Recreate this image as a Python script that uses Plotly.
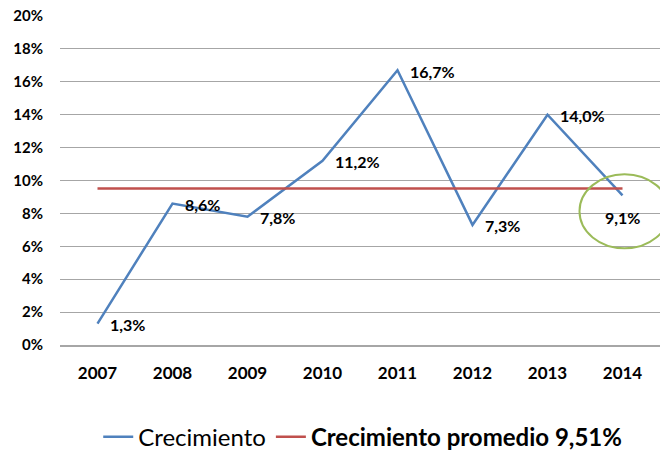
import plotly.graph_objects as go

years = ["2007", "2008", "2009", "2010", "2011", "2012", "2013", "2014"]
growth = [0.013, 0.086, 0.078, 0.112, 0.167, 0.073, 0.140, 0.091]
growth_labels = ["1,3%", "8,6%", "7,8%", "11,2%", "16,7%", "7,3%", "14,0%", "9,1%"]
average = 0.0951
average_name = "Crecimiento promedio 9,51%"
y_ticks = [0, 0.02, 0.04, 0.06, 0.08, 0.10, 0.12, 0.14, 0.16, 0.18, 0.20]
y_tick_labels = ["0%", "2%", "4%", "6%", "8%", "10%", "12%", "14%", "16%", "18%", "20%"]

FONT = "Lato"
BLUE = "#4F81BD"
RED = "#C0504D"
GREEN = "#9BBB59"

fig = go.Figure()
fig.add_trace(go.Scatter(x=years, y=growth, mode="lines", name="Crecimiento",
                         line=dict(color=BLUE, width=2.5)))
fig.add_trace(go.Scatter(x=years, y=[average] * len(years), mode="lines",
                         name="<b>" + average_name + "</b>",
                         line=dict(color=RED, width=2.5)))

last_idx = len(years) - 1
for i, (v, lab) in enumerate(zip(growth, growth_labels)):
    last = i == last_idx
    fig.add_annotation(x=i, y=v, xref="x", yref="y", text="<b>" + lab + "</b>",
                       showarrow=False,
                       xanchor="center" if last else "left",
                       yanchor="middle",
                       xshift=0 if last else 10,
                       yshift=-22 if last else -1,
                       font=dict(family=FONT, size=16, color="#000000"))

fig.add_shape(type="circle", xref="x", yref="y",
              xsizemode="pixel", ysizemode="pixel",
              xanchor=last_idx, yanchor=growth[-1],
              x0=-43, x1=47, y0=-53, y1=21,
              line=dict(color=GREEN, width=2))

fig.update_layout(
    width=668, height=452,
    margin=dict(l=60, r=8, t=16, b=107, autoexpand=False),
    paper_bgcolor="white", plot_bgcolor="white",
    font=dict(family=FONT, color="#000000"),
    showlegend=True,
    legend=dict(orientation="h", xref="container", yref="container",
                x=0.543, xanchor="center", y=0.033, yanchor="middle",
                font=dict(family=FONT, size=24, color="#000000"),
                itemwidth=30, tracegroupgap=0),
    xaxis=dict(type="category", categoryorder="array", categoryarray=years,
               range=[-0.5, len(years) - 0.5], automargin=False,
               showgrid=False, showline=True, linecolor="#A6A6A6",
               linewidth=1.5, ticks="",
               tickfont=dict(family=FONT, size=17, color="#000000", weight="bold"),
               ticklabelstandoff=12),
    yaxis=dict(range=[0, 0.2], tickvals=y_ticks, ticktext=y_tick_labels, automargin=False,
               showgrid=True, gridcolor="#A6A6A6", gridwidth=1, zeroline=False,
               showline=False, ticks="",
               tickfont=dict(family=FONT, size=15, color="#000000", weight="bold"),
               ticklabelstandoff=16),
)

fig.write_html("out.html", config={"displayModeBar": False},
               post_script="document.body.style.margin='0';document.body.style.overflow='hidden';")
